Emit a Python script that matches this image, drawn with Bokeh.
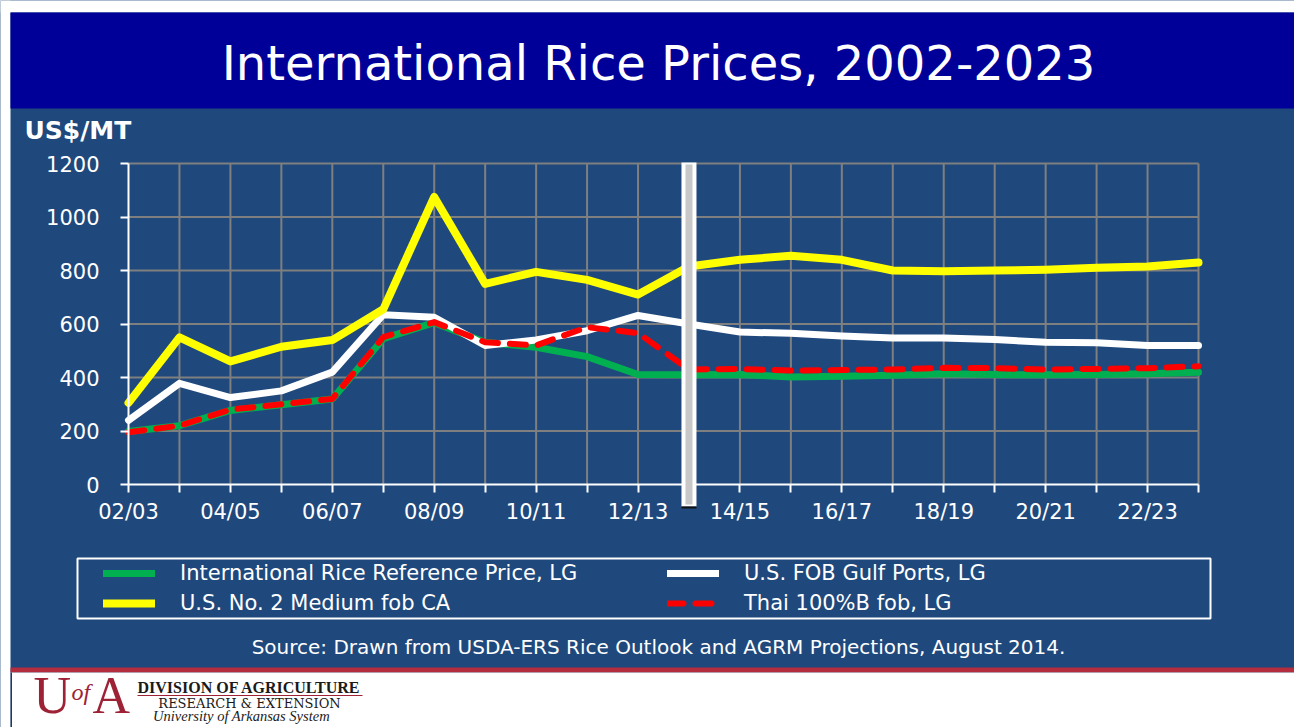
from bokeh.plotting import figure
from bokeh.models import Range1d, FixedTicker, Label, BoxAnnotation, Legend, LegendItem
from bokeh.core.properties import value
from bokeh.embed import file_html
from bokeh.resources import INLINE

# ---------------- data ----------------
years = ["02/03", "03/04", "04/05", "05/06", "06/07", "07/08", "08/09", "09/10",
         "10/11", "11/12", "12/13", "13/14", "14/15", "15/16", "16/17", "17/18",
         "18/19", "19/20", "20/21", "21/22", "22/23", "23/24"]
intl_ref_price = [198, 220, 277, 298, 320, 545, 605, 532, 513, 478, 411, 410,
                  411, 402, 405, 408, 414, 411, 410, 411, 414, 420]
us_fob_gulf = [240, 378, 325, 350, 420, 635, 625, 520, 540, 575, 632, 600,
               570, 565, 555, 548, 548, 542, 532, 530, 520, 520]
us_medium_ca = [305, 550, 460, 515, 540, 655, 1075, 750, 795, 765, 710, 815,
                840, 855, 840, 800, 797, 800, 803, 810, 815, 830]
thai_100b = [195, 220, 280, 300, 320, 551, 607, 532, 520, 588, 566, 430,
             432, 426, 428, 430, 436, 435, 430, 432, 435, 442]
y_ticks = [0, 200, 400, 600, 800, 1000, 1200]
projection_start = "13/14"

series_names = ["International Rice Reference Price, LG", "U.S. FOB Gulf Ports, LG",
                "U.S. No. 2 Medium fob CA", "Thai 100%B fob, LG"]
title_text = "International Rice Prices, 2002-2023"
unit_text = "US$/MT"
source_text = "Source: Drawn from USDA-ERS Rice Outlook and AGRM Projections, August 2014."

# ---------------- style / layout ----------------
BLUE = "#1F497D"
NAVY = "#000099"
GRID = "#7F7F7F"
GREEN = "#00B050"
YELLOW = "#FFFF00"
RED = "#FF0000"
UA_RED = "#9D2235"
FONT = "DejaVu Sans"
SERIF = "Liberation Serif"

W, H = 1294, 727
# plot-area placement on the page (pixels)
PL, PR, PT, PB = 128, 1198, 163, 484
n = len(years)
x = list(range(n))
y_max = y_ticks[-1]
ux = (PR - PL) / (n - 1)          # px per category step
uy = (PB - PT) / y_max            # px per US$/MT
x_range = Range1d(-PL / ux, (n - 1) + (W - PR) / ux)
y_range = Range1d(-(H - PB) / uy, y_max + PT / uy)


def sy(page_y):
    """page pixel row -> screen units (measured upward from the bottom)"""
    return H - page_y


p = figure(width=W, height=H, x_range=x_range, y_range=y_range,
           output_backend="svg", toolbar_location=None, min_border=0,
           min_border_left=0, min_border_right=0, min_border_top=0, min_border_bottom=0,
           background_fill_color=BLUE, border_fill_color=BLUE, outline_line_color=None)
p.xgrid.visible = False
p.ygrid.visible = False

# axes fixed at the chart origin
p.xaxis.fixed_location = 0
p.xaxis.bounds = (0, n - 1)
p.xaxis.ticker = FixedTicker(ticks=x)
p.xaxis.major_label_overrides = {i: (years[i] if i % 2 == 0 else "") for i in x}
p.yaxis.fixed_location = 0
p.yaxis.bounds = (0, y_max)
p.yaxis.ticker = FixedTicker(ticks=y_ticks)
for ax in (p.xaxis[0], p.yaxis[0]):
    ax.axis_line_color = "white"
    ax.axis_line_width = 2
    ax.major_tick_line_color = "white"
    ax.major_tick_line_width = 2
    ax.major_tick_out = 8
    ax.major_tick_in = 0
    ax.minor_tick_line_color = None
    ax.major_label_text_color = "white"
    ax.major_label_text_font = FONT
    ax.major_label_text_font_size = "21px"
p.yaxis.major_label_standoff = 21
p.xaxis.major_label_standoff = 7

# grid lines restricted to the chart area
gx = x[1:]
gy = y_ticks[1:]
p.segment(x0=gx, y0=[0] * len(gx), x1=gx, y1=[y_max] * len(gx), line_color=GRID, line_width=2)
p.segment(x0=[0] * len(gy), y0=gy, x1=[n - 1] * len(gy), y1=gy, line_color=GRID, line_width=2)

# series
r_green = p.line(x, intl_ref_price, line_color=GREEN, line_width=7, line_join="round", line_cap="round")
r_white = p.line(x, us_fob_gulf, line_color="white", line_width=7, line_join="round", line_cap="round")
r_yellow = p.line(x, us_medium_ca, line_color=YELLOW, line_width=8, line_join="round", line_cap="round")
r_red = p.line(x, thai_100b, line_color=RED, line_width=6, line_dash="16 12", line_join="round", line_cap="round")


def box(l, r, t, b, color, lu="screen", ru="screen", line_color=None, line_width=1):
    bx = BoxAnnotation(left=l, right=r, top=t, bottom=b,
                       left_units=lu, right_units=ru, top_units="screen", bottom_units="screen",
                       fill_color=color, fill_alpha=1.0 if color else 0.0,
                       line_color=line_color, line_width=line_width, line_alpha=1.0)
    p.add_layout(bx)
    return bx

# page decorations
box(0, W, H, sy(12), "white")             # top white strip
box(0, 10, H, 0, "white")                 # left white strip
box(10, W, sy(12), sy(108), NAVY)         # title banner
box(10, W, sy(667), sy(672), "#B32D3F")   # red rule
box(10, W, sy(672), 0, "white")           # footer
box(10, 11.5, sy(672), 0, "#1F3864")      # footer edge

# projection separator at 13/14
xi = years.index(projection_start)
box(xi - 7.5 / ux, xi + 7.5 / ux, sy(162), sy(506), "white", lu="data", ru="data")
box(xi - 3.5 / ux, xi + 3.5 / ux, sy(164), sy(504), "#C8C8C8", lu="data", ru="data")
box(xi - 7.5 / ux, xi + 7.5 / ux, sy(506), sy(508), "#111111", lu="data", ru="data")

# legend frame
box(77, 1210, sy(558), sy(618), None, line_color="white", line_width=2)


def legend(items, left):
    lg = Legend(items=items, location=(left, sy(615)), orientation="vertical",
                glyph_width=52, glyph_height=24, label_height=24, label_standoff=25,
                spacing=6, padding=3, margin=0,
                background_fill_alpha=0, border_line_color=None,
                label_text_color="white", label_text_font=FONT, label_text_font_size="21px")
    p.add_layout(lg)
    return lg

legend([LegendItem(label=value(series_names[0]), renderers=[r_green]),
        LegendItem(label=value(series_names[2]), renderers=[r_yellow])], 103)
legend([LegendItem(label=value(series_names[1]), renderers=[r_white]),
        LegendItem(label=value(series_names[3]), renderers=[r_red])], 667)


def label(xp, yp, text, size, color="white", font=FONT, align="left", style="normal"):
    lb = Label(x=xp, y=yp, x_units="screen", y_units="screen", text=text,
               text_align=align, text_baseline="middle", text_color=color,
               text_font=font, text_font_size=size, text_font_style=style)
    p.add_layout(lb)
    return lb

label(658, sy(62), title_text, "48px", align="center")
label(24, sy(130), unit_text, "25px", style="bold")
label(658, sy(646), source_text, "20px", align="center")

# footer logo
label(33, sy(695), "U", "52px", color=UA_RED, font=SERIF)
label(71, sy(691), "of", "24px", color=UA_RED, font=SERIF, style="italic")
label(92, sy(695), "A", "52px", color=UA_RED, font=SERIF)
label(137, sy(686.5), "DIVISION OF AGRICULTURE", "16px", color="#1A1A1A", font=SERIF, style="bold")
box(137, 362, sy(694.5), sy(695.5), UA_RED)
label(249, sy(703), "RESEARCH & EXTENSION", "13px", color="#1A1A1A", font="DejaVu Serif", align="center")
label(241, sy(715.5), "University of Arkansas System", "14.5px", color="#1A1A1A", font=SERIF,
      align="center", style="italic")

open("out.html", "w").write(file_html(p, INLINE))
